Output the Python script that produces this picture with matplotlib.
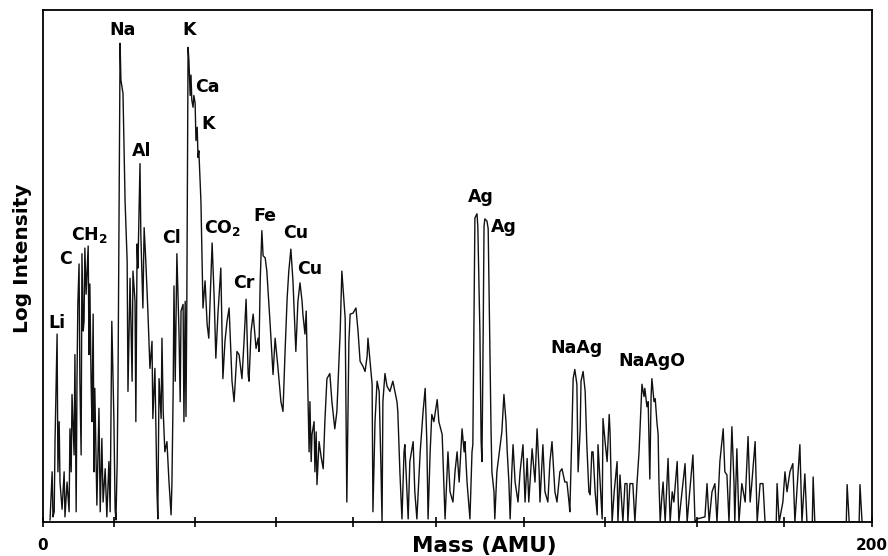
import matplotlib
matplotlib.use("Agg")
import matplotlib.pyplot as plt

# spectrum trace (mass in AMU, log intensity in arbitrary units 0-100)
mass = [1.7, 2.2, 2.4, 2.7, 2.9, 3.4, 3.6, 3.9, 4.1, 4.6, 5.1, 5.3, 5.8, 6.3, 6.5, 6.8, 7.0, 7.5,
        7.7, 8.0, 8.2, 8.4, 8.7, 8.9, 9.2, 9.4, 9.7, 9.9, 10.1, 10.4, 10.9, 11.1, 11.3, 11.6,
        11.8, 12.1, 12.3, 12.5, 13.0, 13.5, 13.8, 14.2, 14.5, 15.0, 15.4, 15.9, 16.2, 16.6,
        17.1, 17.4, 17.6, 17.9, 18.1, 18.6, 18.8, 19.3, 19.8, 20.3, 20.5, 21.0, 21.5, 21.7,
        22.2, 22.4, 22.7, 22.9, 23.4, 23.6, 24.1, 24.4, 24.8, 25.3, 25.8, 26.3, 26.5, 27.0,
        27.5, 27.7, 28.0, 28.5, 28.7, 29.0, 29.4, 29.9, 30.4, 30.9, 31.1, 31.4, 31.6, 31.9,
        32.3, 32.8, 33.1, 33.3, 33.8, 34.0, 34.3, 34.5, 34.7, 35.0, 35.2, 35.5, 35.7, 35.9,
        36.2, 36.4, 36.7, 36.9, 37.2, 37.4, 37.6, 38.1, 38.6, 39.1, 39.6, 40.0, 40.3, 40.8,
        41.3, 41.7, 42.2, 42.9, 43.4, 43.9, 44.4, 44.9, 45.6, 46.1, 46.8, 47.3, 48.0, 48.5,
        49.0, 49.5, 49.7, 50.2, 50.7, 51.4, 51.9, 52.1, 52.4, 52.8, 53.1, 53.6, 54.0, 54.8,
        55.5, 56.0, 56.7, 57.4, 57.9, 58.4, 58.9, 59.3, 59.8, 60.3, 60.8, 61.0, 61.5, 62.0,
        62.5, 62.7, 63.2, 63.5, 63.9, 64.2, 64.4, 64.7, 64.9, 65.4, 65.6, 65.9, 66.1, 66.6,
        67.1, 67.6, 68.0, 68.5, 69.2, 69.7, 70.4, 70.9, 71.7, 72.1, 72.6, 72.9, 73.3, 73.8,
        74.1, 74.8, 75.5, 76.0, 76.5, 77.2, 77.7, 78.2, 78.4, 78.9, 79.4, 79.6, 80.1, 80.6,
        81.1, 81.5, 81.8, 82.0, 82.5, 83.0, 83.7, 84.4, 84.9, 85.4, 85.6, 86.1, 86.6, 87.1,
        87.3, 87.8, 88.1, 88.5, 89.3, 89.7, 90.2, 91.0, 91.7, 92.2, 92.6, 92.9, 93.4, 93.8,
        94.3, 95.1, 95.5, 96.3, 96.7, 97.0, 97.5, 97.7, 98.2, 98.9, 99.4, 99.9, 100.4, 101.1,
        101.6, 101.8, 102.3, 103.0, 103.5, 103.7, 104.0, 104.2, 104.7, 104.9, 105.4, 105.7,
        105.9, 106.2, 106.4, 106.6, 107.1, 107.4, 107.8, 108.1, 108.3, 108.8, 109.0, 109.5,
        110.3, 110.7, 111.2, 111.7, 112.0, 112.4, 112.7, 113.1, 113.4, 113.9, 114.6, 115.1,
        115.8, 116.3, 116.8, 117.2, 118.0, 118.7, 119.2, 119.7, 119.9, 120.6, 121.1, 121.8,
        122.3, 122.8, 123.5, 124.0, 124.7, 125.2, 125.9, 126.4, 126.9, 127.1, 127.6, 127.9,
        128.3, 128.8, 129.1, 129.6, 129.8, 130.3, 130.8, 131.2, 131.7, 132.0, 132.4, 132.7,
        133.2, 133.7, 133.9, 134.4, 134.9, 135.1, 135.6, 136.1, 136.6, 136.8, 137.3, 137.8,
        138.5, 138.7, 139.2, 139.9, 140.4, 140.9, 141.1, 141.6, 142.3, 142.8, 143.3, 143.8,
        144.3, 144.5, 145.0, 145.2, 145.7, 146.0, 146.4, 146.7, 146.9, 147.4, 147.7, 148.1,
        148.4, 148.6, 148.9, 149.3, 149.6, 150.1, 150.8, 151.3, 151.8, 152.2, 153.0, 153.4,
        153.9, 154.9, 155.4, 155.8, 156.8, 157.3, 157.8, 159.7, 160.2, 160.7, 161.4, 162.1,
        162.6, 163.3, 164.1, 164.5, 165.0, 165.5, 166.2, 166.7, 166.9, 167.4, 167.9, 168.6,
        169.4, 170.1, 170.6, 171.0, 171.8, 172.3, 173.0, 173.7, 174.2, 176.9, 177.1, 177.6,
        178.5, 179.0, 179.5, 180.2, 180.9, 181.4, 182.6, 183.1, 183.8, 184.3, 185.6, 185.8,
        186.2, 193.8, 194.0, 194.5, 196.9, 197.1, 197.6]

log_intensity = [0.4, 9.8, 1.0, 2.0, 15.7, 36.7, 9.8, 19.6, 7.8, 2.5, 9.8, 1.0, 7.8, 2.0, 18.2,
                 9.8, 24.9, 13.1, 32.7, 2.0, 27.5, 42.5, 50.4, 27.5, 13.1, 52.4, 37.3, 39.2,
                 53.5, 44.5, 53.9, 32.7, 46.5, 27.5, 19.6, 40.6, 9.8, 26.1, 3.3, 22.2, 2.0,
                 16.3, 3.9, 10.4, 1.0, 11.8, 2.0, 39.2, 20.2, 2.5, 0.4, 11.8, 27.5, 93.5, 86.3,
                 83.7, 62.7, 51.0, 25.5, 47.6, 27.5, 49.0, 43.1, 19.6, 54.3, 49.6, 70.0, 56.3,
                 41.8, 57.5, 51.0, 41.2, 30.0, 35.3, 20.2, 30.0, 5.9, 0.6, 28.0, 20.2, 35.9,
                 21.6, 13.7, 15.7, 7.8, 1.4, 7.3, 25.5, 46.1, 27.5, 52.4, 37.3, 23.5, 41.2,
                 42.5, 19.6, 43.1, 20.6, 43.1, 92.7, 90.2, 83.3, 87.3, 82.4, 81.0, 83.3, 81.8,
                 74.5, 77.1, 71.2, 72.5, 62.7, 41.8, 47.1, 38.6, 35.9, 43.1, 54.5, 43.7, 32.0,
                 40.6, 49.6, 28.0, 35.3, 39.2, 41.8, 27.5, 23.5, 33.3, 32.7, 28.0, 35.3, 43.5,
                 28.8, 27.5, 37.3, 40.6, 33.9, 35.9, 33.3, 47.1, 56.9, 52.0, 51.6, 49.0, 38.6,
                 28.8, 35.9, 30.0, 23.5, 21.6, 33.3, 43.7, 49.0, 53.3, 47.1, 37.3, 33.3, 43.1,
                 46.7, 43.1, 40.6, 36.7, 41.2, 24.9, 13.7, 23.5, 11.8, 17.1, 19.6, 9.8, 17.6,
                 7.3, 15.7, 12.7, 10.4, 19.6, 28.0, 29.0, 23.5, 18.2, 21.6, 37.3, 49.0, 43.1,
                 39.8, 3.9, 35.3, 40.6, 40.8, 41.8, 37.3, 31.4, 30.4, 29.4, 32.4, 35.9, 31.4,
                 26.9, 2.0, 19.6, 27.5, 25.5, 11.8, 0.0, 23.5, 29.0, 26.5, 25.5, 27.5, 25.5,
                 23.5, 21.6, 9.8, 0.6, 13.7, 15.1, 5.9, 0.6, 11.8, 15.7, 5.9, 0.6, 13.7, 21.6,
                 26.1, 15.7, 0.6, 13.7, 21.0, 19.6, 23.9, 19.6, 17.1, 7.8, 0.6, 9.8, 13.7, 5.9,
                 3.9, 9.8, 13.7, 7.8, 18.2, 13.7, 15.7, 7.8, 0.6, 13.7, 15.1, 43.1, 59.4, 60.2,
                 57.8, 37.3, 15.7, 11.8, 37.3, 57.8, 59.2, 58.8, 57.3, 35.3, 17.6, 9.8, 5.9,
                 0.6, 9.8, 15.1, 17.6, 24.9, 19.6, 13.7, 7.8, 0.6, 9.8, 15.1, 7.8, 3.9, 9.8,
                 15.1, 3.9, 12.4, 3.9, 14.3, 7.8, 18.2, 9.8, 3.9, 15.1, 5.9, 3.9, 11.8, 15.7,
                 5.9, 3.9, 9.8, 10.4, 7.8, 7.8, 3.9, 2.0, 17.6, 28.0, 29.8, 26.9, 9.8, 18.2,
                 27.5, 29.4, 25.5, 15.1, 5.9, 5.3, 13.7, 13.7, 5.9, 1.4, 15.1, 7.8, 0.6, 20.2,
                 15.7, 11.8, 21.0, 17.6, 0.0, 5.9, 11.8, 0.0, 9.2, 0.0, 7.5, 7.5, 0.0, 7.5, 7.5,
                 0.0, 7.5, 13.7, 23.5, 26.9, 24.5, 26.1, 22.5, 23.5, 8.4, 24.5, 28.0, 23.5,
                 24.1, 19.6, 17.1, 7.8, 0.0, 4.9, 7.8, 0.0, 12.4, 0.0, 5.9, 3.9, 11.8, 0.0, 3.9,
                 11.4, 0.0, 3.9, 13.1, 0.0, 0.6, 1.0, 7.5, 0.0, 5.9, 7.5, 0.0, 11.8, 18.2, 9.8,
                 9.2, 0.0, 18.6, 7.8, 0.0, 14.3, 0.0, 7.5, 3.9, 16.7, 3.9, 7.5, 15.7, 0.0, 7.5,
                 7.5, 0.0, 0.0, 7.5, 0.0, 3.9, 9.8, 5.9, 9.8, 11.4, 0.0, 15.1, 0.0, 9.4, 0.0,
                 0.0, 8.8, 0.0, 0.0, 7.3, 0.0, 0.0, 7.3, 0.0]

# peak labels
peak_names = ["Li", "C", "CH$_\\mathbf{2}$", "Na", "Al", "Cl", "K", "Ca", "K", "CO$_\\mathbf{2}$",
              "Cr", "Fe", "Cu", "Cu", "Ag", "Ag", "NaAg", "NaAgO"]
peak_mass = [3.4, 5.5, 11.3, 19.1, 23.9, 31.1, 35.2, 39.6, 39.8, 43.4,
             48.5, 53.6, 61.0, 64.4, 105.7, 111.2, 128.6, 146.9]
peak_level = [38.8, 51.4, 56.1, 96.1, 72.4, 55.5, 96.1, 84.9, 77.8, 57.5,
              46.7, 59.8, 56.5, 49.4, 63.5, 57.6, 33.9, 31.4]

# unlabelled tick marks along the mass axis
tick_marks = [17.1, 36.7, 56.2, 74.8, 94.8, 116.0, 135.6, 157.8, 178.8]

plt.rcParams['font.family'] = ['DejaVu Sans']
plt.rcParams['mathtext.fontset'] = 'dejavusans'

fig = plt.figure(figsize=(8.88, 5.56), dpi=100)
ax = fig.add_axes([43 / 888, 34 / 556, 829 / 888, 512 / 556])

ax.plot(mass, log_intensity, color='#111111', lw=1.0)

for name, m, lvl in zip(peak_names, peak_mass, peak_level):
    ax.text(m, lvl, name, ha='center', va='center', fontsize=12.5, fontweight='bold')

ax.set_xlim(0, 200)
ax.set_ylim(0, 100)
ax.set_xticks([0, 200])
ax.set_xticklabels(['0', '200'], fontsize=11, fontweight='bold')
ax.set_xticks(tick_marks, minor=True)
ax.tick_params(axis='x', which='both', direction='inout', length=7, width=1.2, pad=8)
ax.set_yticks([])
for s in ax.spines.values():
    s.set_linewidth(1.3)

ax.set_xlabel('Mass (AMU)', fontsize=15.5, fontweight='bold')
ax.xaxis.set_label_coords((484 - 43) / 829, -0.028)
ax.set_ylabel('Log Intensity', fontsize=14.5, fontweight='bold')
ax.yaxis.set_label_coords(-0.013, 0.516)

fig.savefig('out.png', dpi=100)
